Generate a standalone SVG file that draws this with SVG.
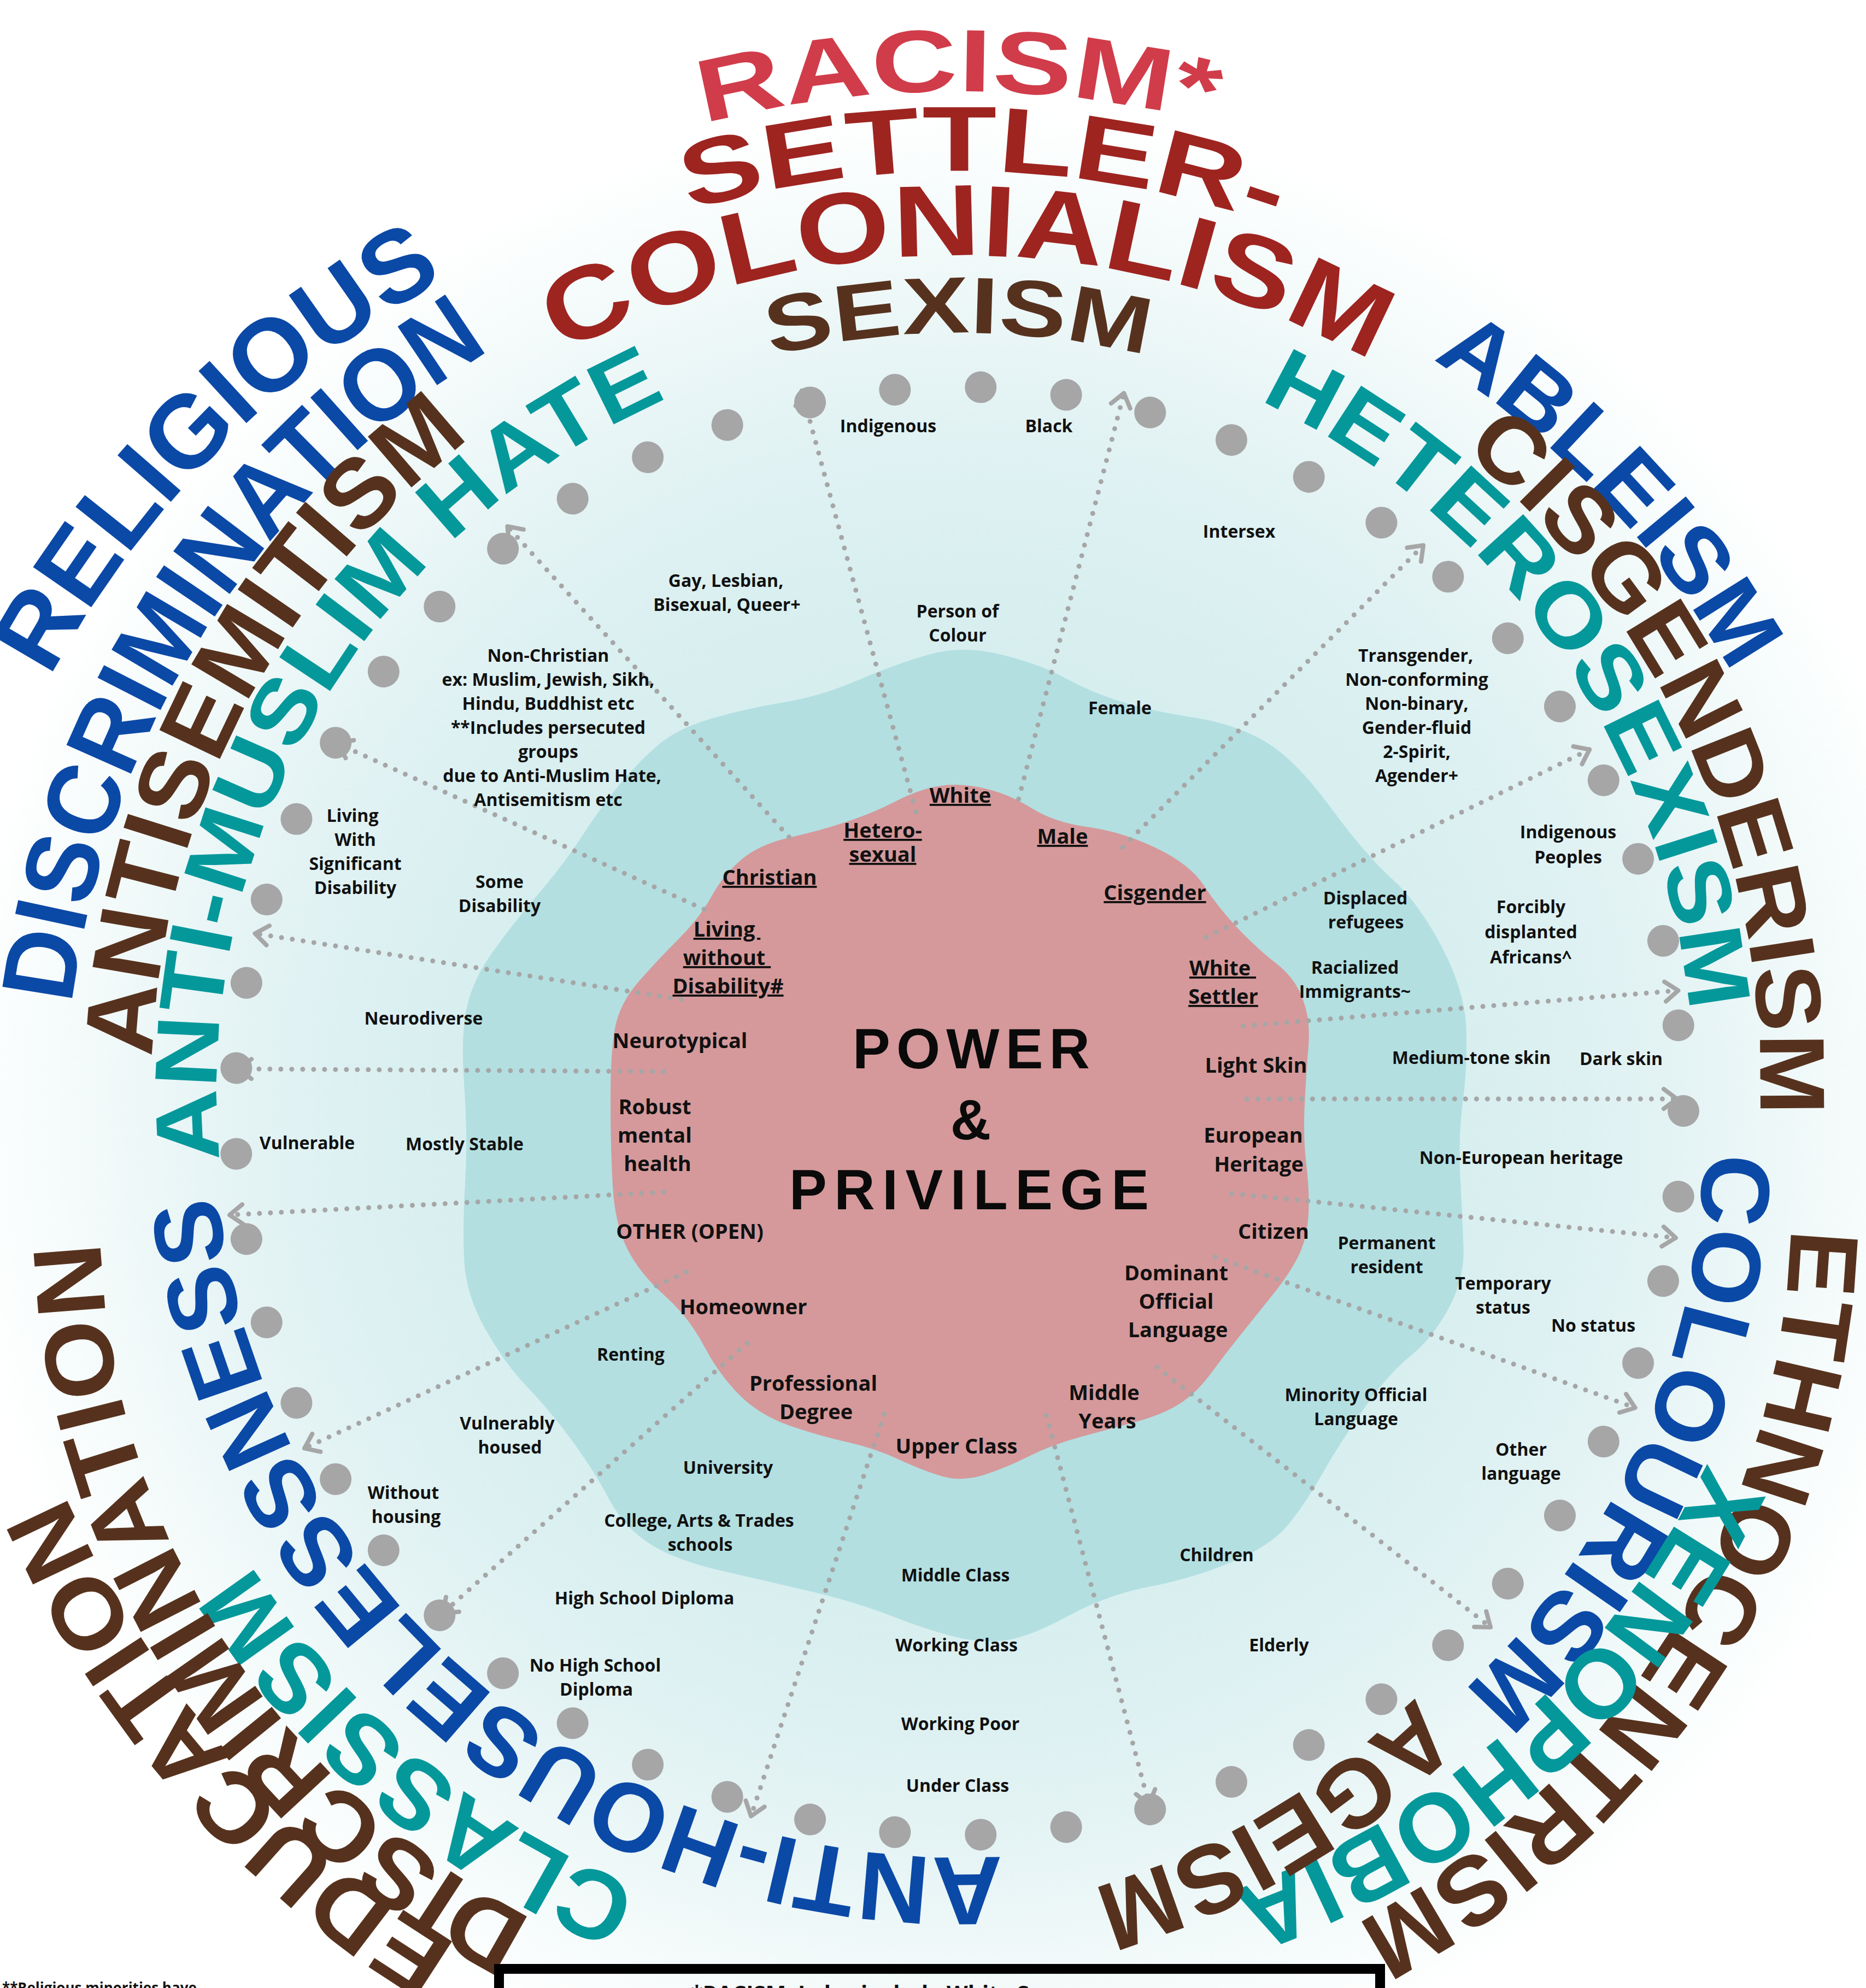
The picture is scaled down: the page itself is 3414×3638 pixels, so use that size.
<svg xmlns="http://www.w3.org/2000/svg" width="3414" height="3638" viewBox="0 0 3414 3638">
<style>
.w{font-family:"Liberation Sans",Arial,sans-serif;font-weight:700;text-anchor:middle}
.o{font-family:"Open Sans","Liberation Sans",sans-serif;font-weight:700;font-size:32px;text-anchor:middle;fill:#111}
.i{font-family:"Open Sans","Liberation Sans",sans-serif;font-weight:700;font-size:38px;text-anchor:middle;fill:#111}
.u{text-decoration:underline}
.con{fill:none;stroke:#a6a6a6;stroke-width:9;stroke-dasharray:0 20;stroke-linecap:round;marker-end:url(#ah)}
.t{font-family:"Liberation Sans",Arial,sans-serif;font-weight:700;font-size:103px;text-anchor:middle;fill:#0a0a0a}
.red{fill:#d13c4a}.dred{fill:#9e2420}.brn{fill:#56321e}.blu{fill:#0b49a7}.tea{fill:#05989b}
</style>
<defs>
<radialGradient id="bg" cx="1755" cy="2033" r="2000" gradientUnits="userSpaceOnUse">
<stop offset="0" stop-color="#cde8ea"/>
<stop offset="0.5" stop-color="#d9eff0"/>
<stop offset="0.66" stop-color="#e4f3f4"/>
<stop offset="0.8" stop-color="#f3fafa"/>
<stop offset="0.92" stop-color="#ffffff"/>
</radialGradient>
<marker id="ah" viewBox="-40 -30 50 60" refX="0" refY="0" markerWidth="50" markerHeight="60" markerUnits="userSpaceOnUse" orient="auto">
<path d="M-24,-18 L0,0 L-24,18" fill="none" stroke="#a6a6a6" stroke-width="8" stroke-linecap="round" stroke-linejoin="round"/>
</marker>
<circle id="dot" cx="3080" cy="2033" r="29" fill="#a6a6a6"/>
<path id="p1" d="M1132.1 274.1 A1866 1866 0 0 1 2374.9 273.0"/>
<path id="p2" d="M1119.2 435.1 A1719.8 1719.8 0 0 1 2471.0 469.3"/>
<path id="p3" d="M909.3 715.6 A1565.5 1565.5 0 0 1 2625.9 732.1"/>
<path id="p4" d="M1291.4 686.7 A1423.9 1423.9 0 0 1 2216.2 685.9"/>
<path id="p5" d="M2497.6 588.1 A1624.6 1624.6 0 0 1 3233.4 1359.3"/>
<path id="p6" d="M2655.6 807.1 A1492.3 1492.3 0 0 1 3217.9 2066.2"/>
<path id="p7" d="M2281.8 722.8 A1379.8 1379.8 0 0 1 3093.1 1875.8"/>
<path id="p8" d="M3116.6 2085.3 A1384.4 1384.4 0 0 1 2658.9 3110.2"/>
<path id="p9" d="M3276.8 2219.9 A1485.4 1485.4 0 0 1 2454.7 3533.6"/>
<path id="p10" d="M3174.1 2555.1 A1512.1 1512.1 0 0 1 2125.9 3498.8"/>
<path id="p11" d="M2608.3 3086.7 A1400.7 1400.7 0 0 1 1973.7 3461.9"/>
<path id="p12" d="M1952.2 3384.6 A1365.9 1365.9 0 0 1 389.6 2068.8"/>
<path id="p13" d="M1297.4 3502.2 A1538.8 1538.8 0 0 1 391.3 2745.9"/>
<path id="p14" d="M974.6 3633.0 A1780.1 1780.1 0 0 1 63.9 2588.9"/>
<path id="p15" d="M1001.5 3524.6 A1439 1439 0 0 1 183.7 2242.7"/>
<path id="p16" d="M76.6 1268.1 A1816.1 1816.1 0 0 1 842.3 495.7"/>
<path id="p17" d="M120.4 1993.1 A1635.1 1635.1 0 0 1 1033.1 565.8"/>
<path id="p18" d="M278.1 1960.8 A1500.5 1500.5 0 0 1 881.8 786.0"/>
<path id="p19" d="M405.1 2146.4 A1382.1 1382.1 0 0 1 1242.9 719.8"/>
</defs>

<rect x="0" y="0" width="3414" height="3638" fill="url(#bg)"/>

<g id="outer-zone">
<path fill="#b3dfe1" d="M1698.5 1198 Q1761 1180 1832.5 1198 Q1904 1216 1948.5 1240.5 Q1993 1265 2046.5 1282.5 Q2100 1300 2180.5 1312.5 Q2261 1325 2315.5 1357.5 Q2370 1390 2434 1477 Q2498 1564 2547.5 1609 Q2597 1654 2638.5 1734 Q2680 1814 2682.5 1882 Q2685 1950 2676.5 2015 Q2668 2080 2671.5 2150 Q2675 2220 2677.5 2280 Q2680 2340 2650 2395 Q2620 2450 2580.5 2481.5 Q2541 2513 2496 2577 Q2451 2641 2419.5 2696.5 Q2388 2752 2356.5 2790.5 Q2325 2829 2252.5 2859 Q2180 2889 2103.5 2903.5 Q2027 2918 1955.5 2956.5 Q1884 2995 1842 3001.5 Q1800 3008 1750 2996 Q1700 2984 1633.5 2958 Q1567 2932 1490.5 2914 Q1414 2896 1322.5 2875 Q1231 2854 1185 2822.5 Q1139 2791 1113.5 2742 Q1088 2693 1047 2637 Q1006 2581 965 2538.5 Q924 2496 888.5 2433 Q853 2370 849.5 2310 Q846 2250 851 2165 Q856 2080 849.5 1990 Q843 1900 853 1848.5 Q863 1797 898 1747 Q933 1697 982.5 1639 Q1032 1581 1067 1527 Q1102 1473 1137 1431.5 Q1172 1390 1207 1361 Q1242 1332 1305 1314 Q1368 1296 1435 1285 Q1502 1274 1569 1245 Q1636 1216 1698.5 1198 Z"/>
</g>

<g id="core">
<path fill="#d5999b" d="M1717.5 1438.5 Q1755 1432 1800.5 1442.5 Q1846 1453 1887.5 1479 Q1929 1505 1991 1513.5 Q2053 1522 2115.5 1552 Q2178 1582 2203 1621 Q2228 1660 2265 1699 Q2302 1738 2335.5 1763.5 Q2369 1789 2383.5 1828 Q2398 1867 2394 1913.5 Q2390 1960 2387 2021 Q2384 2082 2390 2131 Q2396 2180 2394 2222.5 Q2392 2265 2376 2297.5 Q2360 2330 2330 2367.5 Q2300 2405 2270 2442.5 Q2240 2480 2215 2514 Q2190 2548 2159.5 2568 Q2129 2588 2078 2602 Q2027 2616 1975.5 2630 Q1924 2644 1883.5 2664.5 Q1843 2685 1802 2698.5 Q1761 2712 1725.5 2702 Q1690 2692 1645 2671 Q1600 2650 1550 2639 Q1500 2628 1445 2609 Q1390 2590 1352.5 2552.5 Q1315 2515 1288 2463 Q1261 2411 1215.5 2370.5 Q1170 2330 1147.5 2285 Q1125 2240 1121 2170 Q1117 2100 1117 2010 Q1117 1920 1126 1877.5 Q1135 1835 1167.5 1797.5 Q1200 1760 1240 1720 Q1280 1680 1302 1640 Q1324 1600 1357 1572.5 Q1390 1545 1445 1532.5 Q1500 1520 1548.5 1504 Q1597 1488 1638.5 1466.5 Q1680 1445 1717.5 1438.5 Z"/>
</g>

<g id="connectors">
<path class="con" d="M1443.6 1531.8 L928.4 963.2"/>
<path class="con" d="M1675.7 1485.4 L1466.8 714.8"/>
<path class="con" d="M1863.7 1462.2 L2056.3 719.5"/>
<path class="con" d="M2054 1550.4 L2604.1 998"/>
<path class="con" d="M2207.2 1715.2 L2908.1 1371.6"/>
<path class="con" d="M2274.5 1877.6 L3070.5 1812.6"/>
<path class="con" d="M2281.4 2011 L3068 2011"/>
<path class="con" d="M2253.6 2184 L3065.9 2265.2"/>
<path class="con" d="M2223.4 2300 L2991.6 2576.2"/>
<path class="con" d="M2116.7 2501.9 L2727.1 2977.7"/>
<path class="con" d="M1914.7 2590.1 L2102 3302"/>
<path class="con" d="M1617.7 2587.8 L1374 3323.5"/>
<path class="con" d="M1367 2457.8 L810 2952"/>
<path class="con" d="M1255.6 2327.9 L557 2650.4"/>
<path class="con" d="M1213.8 2181.6 L420.1 2223.4"/>
<path class="con" d="M1213.8 1961 L436 1956"/>
<path class="con" d="M1246.3 1828.9 L466.5 1708.2"/>
<path class="con" d="M1288.1 1664.1 L618 1361"/>
</g>

<g id="ring-dots">
<use href="#dot"/>
<use href="#dot" transform="rotate(6.7925 1755 2033)"/>
<use href="#dot" transform="rotate(13.585 1755 2033)"/>
<use href="#dot" transform="rotate(20.3774 1755 2033)"/>
<use href="#dot" transform="rotate(27.1698 1755 2033)"/>
<use href="#dot" transform="rotate(33.9623 1755 2033)"/>
<use href="#dot" transform="rotate(40.7547 1755 2033)"/>
<use href="#dot" transform="rotate(47.5472 1755 2033)"/>
<use href="#dot" transform="rotate(54.3396 1755 2033)"/>
<use href="#dot" transform="rotate(61.1321 1755 2033)"/>
<use href="#dot" transform="rotate(67.9245 1755 2033)"/>
<use href="#dot" transform="rotate(74.717 1755 2033)"/>
<use href="#dot" transform="rotate(81.5094 1755 2033)"/>
<use href="#dot" transform="rotate(88.3019 1755 2033)"/>
<use href="#dot" transform="rotate(95.0943 1755 2033)"/>
<use href="#dot" transform="rotate(101.8868 1755 2033)"/>
<use href="#dot" transform="rotate(108.6792 1755 2033)"/>
<use href="#dot" transform="rotate(115.4717 1755 2033)"/>
<use href="#dot" transform="rotate(122.2642 1755 2033)"/>
<use href="#dot" transform="rotate(129.0566 1755 2033)"/>
<use href="#dot" transform="rotate(135.8491 1755 2033)"/>
<use href="#dot" transform="rotate(142.6415 1755 2033)"/>
<use href="#dot" transform="rotate(149.434 1755 2033)"/>
<use href="#dot" transform="rotate(156.2264 1755 2033)"/>
<use href="#dot" transform="rotate(163.0189 1755 2033)"/>
<use href="#dot" transform="rotate(169.8113 1755 2033)"/>
<use href="#dot" transform="rotate(176.6038 1755 2033)"/>
<use href="#dot" transform="rotate(183.3962 1755 2033)"/>
<use href="#dot" transform="rotate(190.1887 1755 2033)"/>
<use href="#dot" transform="rotate(196.9811 1755 2033)"/>
<use href="#dot" transform="rotate(203.7736 1755 2033)"/>
<use href="#dot" transform="rotate(210.566 1755 2033)"/>
<use href="#dot" transform="rotate(217.3585 1755 2033)"/>
<use href="#dot" transform="rotate(224.1509 1755 2033)"/>
<use href="#dot" transform="rotate(230.9434 1755 2033)"/>
<use href="#dot" transform="rotate(237.7358 1755 2033)"/>
<use href="#dot" transform="rotate(244.5283 1755 2033)"/>
<use href="#dot" transform="rotate(251.3208 1755 2033)"/>
<use href="#dot" transform="rotate(258.1132 1755 2033)"/>
<use href="#dot" transform="rotate(264.9057 1755 2033)"/>
<use href="#dot" transform="rotate(271.6981 1755 2033)"/>
<use href="#dot" transform="rotate(278.4906 1755 2033)"/>
<use href="#dot" transform="rotate(285.283 1755 2033)"/>
<use href="#dot" transform="rotate(292.0755 1755 2033)"/>
<use href="#dot" transform="rotate(298.8679 1755 2033)"/>
<use href="#dot" transform="rotate(305.6604 1755 2033)"/>
<use href="#dot" transform="rotate(312.4528 1755 2033)"/>
<use href="#dot" transform="rotate(319.2453 1755 2033)"/>
<use href="#dot" transform="rotate(326.0377 1755 2033)"/>
<use href="#dot" transform="rotate(332.8302 1755 2033)"/>
<use href="#dot" transform="rotate(339.6226 1755 2033)"/>
<use href="#dot" transform="rotate(346.4151 1755 2033)"/>
<use href="#dot" transform="rotate(353.2075 1755 2033)"/>
</g>

<g id="oppressions">
<text class="w red" font-size="162"><textPath href="#p1" startOffset="50%" textLength="941" lengthAdjust="spacingAndGlyphs">RACISM*</textPath></text>
<text class="w dred" font-size="169"><textPath href="#p2" startOffset="50%" textLength="1090" lengthAdjust="spacingAndGlyphs">SETTLER-</textPath></text>
<text class="w dred" font-size="185"><textPath href="#p3" startOffset="50%" textLength="1544" lengthAdjust="spacingAndGlyphs">COLONIALISM</textPath></text>
<text class="w brn" font-size="146"><textPath href="#p4" startOffset="50%" textLength="693" lengthAdjust="spacingAndGlyphs">SEXISM</textPath></text>
<text class="w blu" font-size="169"><textPath href="#p5" startOffset="50%" textLength="802" lengthAdjust="spacingAndGlyphs">ABLEISM</textPath></text>
<text class="w brn" font-size="169"><textPath href="#p6" startOffset="50%" textLength="1381" lengthAdjust="spacingAndGlyphs">CISGENDERISM</textPath></text>
<text class="w tea" font-size="162"><textPath href="#p7" startOffset="50%" textLength="1431" lengthAdjust="spacingAndGlyphs">HETEROSEXISM</textPath></text>
<text class="w blu" font-size="178"><textPath href="#p8" startOffset="50%" textLength="1108" lengthAdjust="spacingAndGlyphs">COLOURISM</textPath></text>
<text class="w brn" font-size="178"><textPath href="#p9" startOffset="50%" textLength="1574" lengthAdjust="spacingAndGlyphs">ETHNOCENTRISM</textPath></text>
<text class="w tea" font-size="178"><textPath href="#p10" startOffset="50%" textLength="1203" lengthAdjust="spacingAndGlyphs">XENOPHOBIA</textPath></text>
<text class="w brn" font-size="178"><textPath href="#p11" startOffset="50%" textLength="697" lengthAdjust="spacingAndGlyphs">AGEISM</textPath></text>
<text class="w blu" font-size="178"><textPath href="#p12" startOffset="50%" textLength="2069" lengthAdjust="spacingAndGlyphs">ANTI-HOUSELESSNESS</textPath></text>
<text class="w tea" font-size="178"><textPath href="#p13" startOffset="50%" textLength="943" lengthAdjust="spacingAndGlyphs">CLASSISM</textPath></text>
<text class="w brn" font-size="178"><textPath href="#p14" startOffset="50%" textLength="1112" lengthAdjust="spacingAndGlyphs">EDUCATION</textPath></text>
<text class="w brn" font-size="178"><textPath href="#p15" startOffset="50%" textLength="1544" lengthAdjust="spacingAndGlyphs">DISCRIMINATION</textPath></text>
<text class="w blu" font-size="188"><textPath href="#p16" startOffset="50%" textLength="1041" lengthAdjust="spacingAndGlyphs">RELIGIOUS</textPath></text>
<text class="w blu" font-size="188"><textPath href="#p17" startOffset="50%" textLength="1470" lengthAdjust="spacingAndGlyphs">DISCRIMINATION</textPath></text>
<text class="w brn" font-size="178"><textPath href="#p18" startOffset="50%" textLength="1315" lengthAdjust="spacingAndGlyphs">ANTISEMITISM</textPath></text>
<text class="w tea" font-size="162"><textPath href="#p19" startOffset="50%" textLength="1725" lengthAdjust="spacingAndGlyphs">ANTI-MUSLIM HATE</textPath></text>
</g>

<g id="outer-labels">
<text class="o" x="1625" y="791">Indigenous</text>
<text class="o" x="1919" y="791">Black</text>
<text class="o" x="2267" y="984">Intersex</text>
<text class="o" x="1328" y="1074">Gay, Lesbian,<tspan x="1330" dy="44">Bisexual, Queer+</tspan></text>
<text class="o" x="1752" y="1130">Person of<tspan x="1752" dy="44">Colour</tspan></text>
<text class="o" x="2049" y="1307">Female</text>
<text class="o" x="1003" y="1211">Non-Christian<tspan x="1003" dy="44">ex: Muslim, Jewish, Sikh,</tspan><tspan x="1003" dy="44">Hindu, Buddhist etc</tspan><tspan x="1003" dy="44">**Includes persecuted</tspan><tspan x="1003" dy="44">groups</tspan><tspan x="1010" dy="44">due to Anti-Muslim Hate,</tspan><tspan x="1003" dy="44">Antisemitism etc</tspan></text>
<text class="o" x="2590" y="1211">Transgender,<tspan x="2592" dy="44">Non-conforming</tspan><tspan x="2592" dy="44">Non-binary,</tspan><tspan x="2592" dy="44">Gender-fluid</tspan><tspan x="2592" dy="44">2-Spirit,</tspan><tspan x="2592" dy="44">Agender+</tspan></text>
<text class="o" x="2869" y="1534">Indigenous<tspan x="2869" dy="46">Peoples</tspan></text>
<text class="o" x="2498" y="1655">Displaced<tspan x="2499" dy="44">refugees</tspan></text>
<text class="o" x="2801" y="1671">Forcibly<tspan x="2801" dy="46">displanted</tspan><tspan x="2801" dy="46">Africans^</tspan></text>
<text class="o" x="2479" y="1782">Racialized<tspan x="2479" dy="44">Immigrants~</tspan></text>
<text class="o" x="2692" y="1947">Medium-tone skin</text>
<text class="o" x="2966" y="1949">Dark skin</text>
<text class="o" x="2783" y="2130">Non-European heritage</text>
<text class="o" x="2537" y="2286">Permanent<tspan x="2537" dy="44">resident</tspan></text>
<text class="o" x="2750" y="2360">Temporary<tspan x="2750" dy="44">status</tspan></text>
<text class="o" x="2915" y="2437">No status</text>
<text class="o" x="2481" y="2564">Minority Official<tspan x="2481" dy="44">Language</tspan></text>
<text class="o" x="2783" y="2664">Other<tspan x="2783" dy="44">language</tspan></text>
<text class="o" x="2226" y="2857">Children</text>
<text class="o" x="2340" y="3022">Elderly</text>
<text class="o" x="1748" y="2894">Middle Class</text>
<text class="o" x="1750" y="3022">Working Class</text>
<text class="o" x="1757" y="3166">Working Poor</text>
<text class="o" x="1752" y="3279">Under Class</text>
<text class="o" x="1332" y="2697">University</text>
<text class="o" x="1279" y="2794">College, Arts &amp; Trades<tspan x="1281" dy="44">schools</tspan></text>
<text class="o" x="1179" y="2936">High School Diploma</text>
<text class="o" x="1089" y="3059">No High School<tspan x="1091" dy="44">Diploma</tspan></text>
<text class="o" x="1154" y="2490">Renting</text>
<text class="o" x="928" y="2616">Vulnerably<tspan x="933" dy="44">housed</tspan></text>
<text class="o" x="738" y="2743">Without<tspan x="743" dy="44">housing</tspan></text>
<text class="o" x="562" y="2103">Vulnerable</text>
<text class="o" x="850" y="2105">Mostly Stable</text>
<text class="o" x="775" y="1875">Neurodiverse</text>
<text class="o" x="645" y="1504">Living<tspan x="650" dy="44">With</tspan><tspan x="650" dy="44">Significant</tspan><tspan x="650" dy="44">Disability</tspan></text>
<text class="o" x="914" y="1625">Some<tspan x="914" dy="44">Disability</tspan></text>
</g>

<g id="privilege-labels">
<text class="i u" x="1757" y="1469">White</text>
<text class="i u" x="1615" y="1533" font-size="34">Hetero-<tspan x="1615" dy="44">sexual</tspan></text>
<text class="i u" x="1944" y="1544">Male</text>
<text class="i u" x="1408" y="1619">Christian</text>
<text class="i u" x="2113" y="1647">Cisgender</text>
<text class="i u" x="1330" y="1714" style="white-space:pre">Living <tspan x="1330" dy="52">without </tspan><tspan x="1332" dy="52">Disability#</tspan></text>
<text class="i u" x="2237" y="1785" style="white-space:pre">White <tspan x="2238" dy="52">Settler</tspan></text>
<text class="i" x="1244" y="1918">Neurotypical</text>
<text class="i" x="2298" y="1963">Light Skin</text>
<text class="i" x="1198" y="2039">Robust<tspan x="1198" dy="52">mental</tspan><tspan x="1203" dy="52">health</tspan></text>
<text class="i" x="2293" y="2091">European<tspan x="2303" dy="53">Heritage</tspan></text>
<text class="i" x="1262" y="2267">OTHER (OPEN)</text>
<text class="i" x="2330" y="2267">Citizen</text>
<text class="i" x="2152" y="2343">Dominant<tspan x="2152" dy="52">Official</tspan><tspan x="2155" dy="52">Language</tspan></text>
<text class="i" x="1360" y="2405">Homeowner</text>
<text class="i" x="1488" y="2545">Professional<tspan x="1493" dy="52">Degree</tspan></text>
<text class="i" x="2020" y="2562">Middle<tspan x="2026" dy="52">Years</tspan></text>
<text class="i" x="1750" y="2660">Upper Class</text>
</g>

<g id="title">
<text class="t" x="1777" y="1955" textLength="434" lengthAdjust="spacing">POWER</text>
<text class="t" x="1776" y="2085">&amp;</text>
<text class="t" x="1773" y="2213" textLength="658" lengthAdjust="spacing">PRIVILEGE</text>
</g>

<g id="footer">
<text x="4" y="3647" font-family="Open Sans, Liberation Sans, sans-serif" font-weight="700" font-size="26" fill="#111">**Religious minorities have</text>
<rect x="913" y="3603" width="1612" height="200" fill="none" stroke="#000" stroke-width="18"/>
<text x="1264" y="3662" font-family="Open Sans, Liberation Sans, sans-serif" font-weight="700" font-size="40" fill="#111">*RACISM: I also include White Supremacy</text>
</g>
</svg>
